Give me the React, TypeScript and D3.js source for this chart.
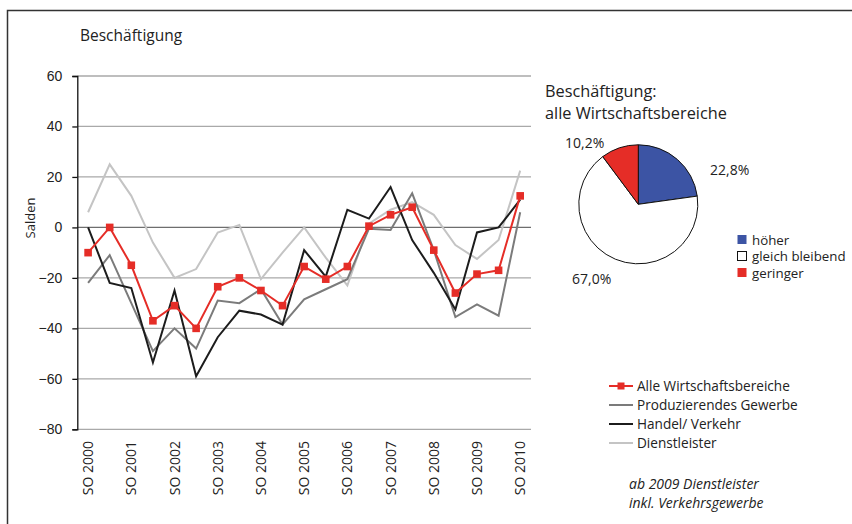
import { useRef, useEffect } from 'react';
import * as d3 from 'd3';

// 21 survey periods, SO = Sommer, FJ = Frühjahr
const periods = [
  'SO 2000', 'FJ 2001', 'SO 2001', 'FJ 2002', 'SO 2002', 'FJ 2003', 'SO 2003',
  'FJ 2004', 'SO 2004', 'FJ 2005', 'SO 2005', 'FJ 2006', 'SO 2006', 'FJ 2007',
  'SO 2007', 'FJ 2008', 'SO 2008', 'FJ 2009', 'SO 2009', 'FJ 2010', 'SO 2010',
];

const alle = [-10, 0, -15, -37, -31, -40, -23.5, -20, -25, -31, -15.5, -20.5, -15.5, 0.5, 5, 8, -9, -26, -18.5, -17, 12.5];
const produzierend = [-22, -11, -30, -49, -40, -48, -29, -30, -24.5, -38.5, -28.5, -24.5, -20.5, -0.5, -1, 13.5, -9, -35.5, -30.5, -35, 6];
const handel = [0, -22, -24, -53.5, -25, -59, -43.5, -33, -34.5, -38.5, -9, -19.5, 7, 3.5, 16, -5, -18, -32.5, -2, 0, 11];
const dienst = [6, 25, 12.5, -6, -20, -16.5, -2, 1, -20.5, -10, 0, -12, -23, 1.5, 7, 10, 5, -7, -12.5, -5, 22.5];

const yTicks = [60, 40, 20, 0, -20, -40, -60, -80];

const pieLabels = ['höher', 'gleich bleibend', 'geringer'];
const pieValues = [22.8, 67.0, 10.2];
const pieText = ['22,8%', '67,0%', '10,2%'];

const C = {
  red: '#e52d27',
  dark: '#7b7b7b',
  black: '#1c1c1c',
  light: '#c4c4c4',
  blue: '#3c54a4',
  grid: '#a9a9a9',
  text: '#222',
};
const FONT = '"Open Sans", sans-serif';

export default function App() {
  const svgRef = useRef<SVGSVGElement>(null);

  useEffect(() => {
    if (!svgRef.current) return;
    const svg = d3.select(svgRef.current);
    svg.selectAll('*').remove();

    // frame
    svg.append('rect').attr('x', 7.5).attr('y', 10.5).attr('width', 900).attr('height', 600)
      .attr('fill', 'none').attr('stroke', '#333').attr('stroke-width', 1.5);

    const x = d3.scalePoint<string>().domain(periods).range([77.3, 531]).padding(0.5);
    const y = d3.scaleLinear().domain([-80, 60]).range([429.3, 76]);

    // grid lines
    svg.append('g').selectAll('line').data(yTicks).join('line')
      .attr('x1', 77.3).attr('x2', 531)
      .attr('y1', d => y(d)).attr('y2', d => y(d))
      .attr('stroke', d => d === 0 ? '#6e6e6e' : C.grid)
      .attr('stroke-width', 1.3);

    // y axis
    const yAxis = svg.append('g').attr('transform', 'translate(77.3,0)');
    yAxis.call(d3.axisLeft(y).tickValues(yTicks).tickSize(5).tickPadding(10));
    yAxis.select('.domain').attr('stroke', '#111').attr('stroke-width', 1.3);
    yAxis.selectAll('.tick line').attr('stroke', '#111').attr('stroke-width', 1.3);
    yAxis.selectAll('text').attr('fill', C.text).attr('font-size', 14)
      .attr('font-family', '"Liberation Sans", Arial, sans-serif');

    svg.append('text').attr('transform', 'translate(35,218) rotate(-90)')
      .attr('text-anchor', 'middle').attr('font-family', FONT).attr('font-size', 13)
      .attr('fill', C.text).text('Salden');

    // x labels (only SO periods)
    svg.append('g').selectAll('text').data(periods.filter(p => p.startsWith('SO'))).join('text')
      .attr('transform', d => `translate(${x(d)! + 5},441) rotate(-90)`)
      .attr('text-anchor', 'end').attr('font-family', FONT).attr('font-size', 14)
      .attr('fill', C.text).text(d => d);

    svg.append('text').attr('x', 80).attr('y', 41).attr('font-family', FONT)
      .attr('font-size', 15.5).attr('fill', C.text).text('Beschäftigung');

    const line = d3.line<number>().x((_, i) => x(periods[i])!).y(d => y(d));
    const series = [
      { values: dienst, color: C.light },
      { values: produzierend, color: C.dark },
      { values: handel, color: C.black },
      { values: alle, color: C.red },
    ];
    series.forEach(s => {
      svg.append('path').attr('d', line(s.values)).attr('fill', 'none')
        .attr('stroke', s.color).attr('stroke-width', 2).attr('stroke-linejoin', 'miter');
    });
    svg.append('g').selectAll('rect').data(alle).join('rect')
      .attr('x', (_, i) => x(periods[i])! - 3.8).attr('y', d => y(d) - 3.8)
      .attr('width', 7.6).attr('height', 7.6).attr('fill', C.red);

    // line legend
    const legendItems = [
      { name: 'Alle Wirtschaftsbereiche', color: C.red, marker: true },
      { name: 'Produzierendes Gewerbe', color: C.dark, marker: false },
      { name: 'Handel/ Verkehr', color: C.black, marker: false },
      { name: 'Dienstleister', color: C.light, marker: false },
    ];
    const lg = svg.append('g').attr('transform', 'translate(609,386)');
    legendItems.forEach((d, i) => {
      const row = lg.append('g').attr('transform', `translate(0,${i * 19})`);
      row.append('line').attr('x1', 0).attr('x2', 24).attr('stroke', d.color).attr('stroke-width', 2);
      if (d.marker) row.append('rect').attr('x', 8.5).attr('y', -3.5).attr('width', 7).attr('height', 7).attr('fill', d.color);
      row.append('text').attr('x', 28).attr('y', 5).attr('font-family', FONT).attr('font-size', 13.6)
        .attr('fill', C.text).text(d.name);
    });
    ['ab 2009 Dienstleister', 'inkl. Verkehrsgewerbe'].forEach((t, i) => {
      svg.append('text').attr('x', 629).attr('y', 489 + i * 19).attr('font-family', FONT)
        .attr('font-style', 'italic').attr('font-size', 14).attr('fill', C.text).text(t);
    });

    // pie
    svg.append('text').attr('x', 545).attr('y', 97).attr('font-family', FONT).attr('font-size', 16.3)
      .attr('fill', C.text).text('Beschäftigung:');
    svg.append('text').attr('x', 545).attr('y', 119).attr('font-family', FONT).attr('font-size', 16.3)
      .attr('fill', C.text).text('alle Wirtschaftsbereiche');

    const pieColors = [C.blue, '#fff', C.red];
    const arcs = d3.pie<number>().sort(null)(pieValues);
    const arc = d3.arc<d3.PieArcDatum<number>>().innerRadius(0).outerRadius(59.5);
    const pg = svg.append('g').attr('transform', 'translate(638.3,204.3)');
    pg.selectAll('path').data(arcs).join('path')
      .attr('d', arc).attr('fill', (_, i) => pieColors[i]).attr('stroke', '#111').attr('stroke-width', 1);

    const pieLabelPos = [[710, 175], [572, 284], [565, 148]];
    pieText.forEach((t, i) => {
      svg.append('text').attr('x', pieLabelPos[i][0]).attr('y', pieLabelPos[i][1])
        .attr('font-family', FONT).attr('font-size', 14).attr('fill', C.text).text(t);
    });

    const pl = svg.append('g').attr('transform', 'translate(737,240)');
    pieLabels.forEach((name, i) => {
      const row = pl.append('g').attr('transform', `translate(0,${i * 16.5})`);
      row.append('rect').attr('x', 0.5).attr('y', -5).attr('width', 9).attr('height', 9)
        .attr('fill', pieColors[i]).attr('stroke', i === 1 ? '#111' : 'none');
      row.append('text').attr('x', 15).attr('y', 4.5).attr('font-family', FONT).attr('font-size', 13.3)
        .attr('fill', C.text).text(name);
    });
  }, []);

  return (
    <svg ref={svgRef} width={852} height={524}
      style={{ position: 'absolute', left: 0, top: 0, background: '#fff' }} />
  );
}
